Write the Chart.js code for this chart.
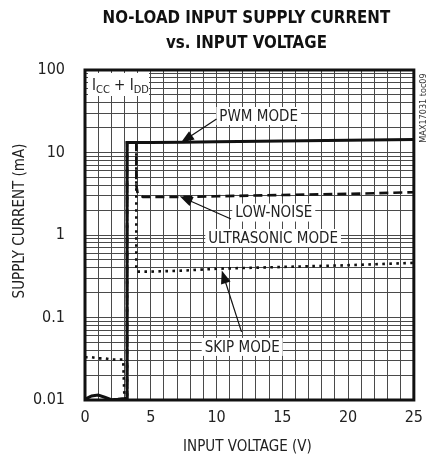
<!DOCTYPE html>
<html>
<head>
<meta charset="utf-8">
<script src="https://cdn.jsdelivr.net/npm/chart.js@4/dist/chart.umd.min.js"></script>
<style>
  html, body { margin: 0; padding: 0; background: #fff; }
  #wrap { width: 431px; height: 459px; }
</style>
</head>
<body>
<div id="wrap"><canvas id="dataChart" width="431" height="459"></canvas></div>
<script>
// values (V, mA)
var pwmX   = [0, 0.5, 1, 1.5, 2, 2.5, 3.0, 3.2, 3.2, 4, 5, 7.5, 10, 15, 20, 25];
var pwmY   = [0.0102, 0.0112, 0.0115, 0.0108, 0.0101, 0.0102, 0.0104, 0.0105, 13.2, 13.2, 13.2, 13.3, 13.5, 13.8, 14.1, 14.4];

var lowNoiseX = [3.2, 3.2, 3.9, 3.9, 4.0, 4.4, 5, 7.5, 10, 15, 20, 25];
var lowNoiseY = [0.0101, 13.2, 13.2, 4.0, 3.2, 2.9, 2.9, 2.9, 2.95, 3.05, 3.15, 3.3];

var skipX  = [0, 0.5, 1, 1.5, 2, 2.5, 2.9, 3.0, 3.2, 3.2, 3.9, 3.9, 3.95, 5, 7.5, 10, 15, 20, 25];
var skipY  = [0.033, 0.033, 0.032, 0.032, 0.031, 0.031, 0.031, 0.0105, 0.0101, 13.2, 13.2, 0.4, 0.36, 0.36, 0.37, 0.39, 0.41, 0.43, 0.46];

var xTickLabels = ['0', '5', '10', '15', '20', '25'];
var yTickLabels = ['0.01', '0.1', '1', '10', '100'];

// annotation text anchors and arrows, in data units
var notes = [
  { text: 'PWM MODE', x: 13.2, y: 27.7 },
  { text: 'LOW-NOISE', x: 14.35, y: 1.87 },
  { text: 'ULTRASONIC MODE', x: 14.3, y: 0.92 },
  { text: 'SKIP MODE', x: 11.95, y: 0.044 }
];
var arrows = [
  { x1: 10.0, y1: 25.5, x2: 7.3, y2: 13.2 },
  { x1: 11.1, y1: 1.56, x2: 7.2, y2: 2.95 },
  { x1: 11.9, y1: 0.067, x2: 10.4, y2: 0.37 }
];

var FONT = "'Liberation Sans Narrow', 'DejaVu Sans Condensed', sans-serif";

function toPoints(xs, ys) {
  return xs.map(function (x, i) { return { x: x, y: ys[i] }; });
}

// log grid: 1..9 in every decade
var yGrid = [];
for (var e = -2; e < 2; e++) {
  for (var m = 1; m < 10; m++) yGrid.push(parseFloat((m * Math.pow(10, e)).toPrecision(3)));
}
yGrid.push(100);

function isDecade(v) {
  var l = Math.log10(v);
  return Math.abs(l - Math.round(l)) < 1e-9;
}

var decorPlugin = {
  id: 'decor',
  afterDatasetsDraw: function (chart) {
    var c = chart.ctx, a = chart.chartArea;
    var xs = chart.scales.x, ys = chart.scales.y;
    c.save();

    // frame
    c.strokeStyle = '#111';
    c.lineWidth = 3;
    c.strokeRect(a.left, a.top, a.right - a.left, a.bottom - a.top);

    // Icc + Idd box
    c.font = '15px ' + FONT;
    c.textBaseline = 'alphabetic';
    var bx = a.left + 3, by = a.top + 3;
    c.fillStyle = '#fff';
    c.fillRect(bx, by, 61, 23);
    c.fillStyle = '#222';
    var tx = bx + 4, base = by + 17;
    c.fillText('I', tx, base); tx += c.measureText('I').width;
    c.font = '11px ' + FONT;
    c.fillText('CC', tx, base + 3); tx += c.measureText('CC').width;
    c.font = '15px ' + FONT;
    c.fillText(' + I', tx, base); tx += c.measureText(' + I').width;
    c.font = '11px ' + FONT;
    c.fillText('DD', tx, base + 3);

    // mode labels
    c.font = '15px ' + FONT;
    c.textAlign = 'center';
    c.textBaseline = 'middle';
    notes.forEach(function (n) {
      var px = xs.getPixelForValue(n.x), py = ys.getPixelForValue(n.y);
      var w = c.measureText(n.text).width;
      c.fillStyle = '#fff';
      c.fillRect(px - w / 2 - 3, py - 9, w + 6, 18);
      c.fillStyle = '#222';
      c.fillText(n.text, px, py + 1);
    });

    // arrows
    c.strokeStyle = '#111';
    c.fillStyle = '#111';
    c.lineWidth = 1.2;
    arrows.forEach(function (r) {
      var x1 = xs.getPixelForValue(r.x1), y1 = ys.getPixelForValue(r.y1);
      var x2 = xs.getPixelForValue(r.x2), y2 = ys.getPixelForValue(r.y2);
      var ang = Math.atan2(y2 - y1, x2 - x1);
      var hl = 13, hw = 5;
      c.beginPath();
      c.moveTo(x1, y1);
      c.lineTo(x2 - Math.cos(ang) * hl * 0.8, y2 - Math.sin(ang) * hl * 0.8);
      c.stroke();
      c.beginPath();
      c.moveTo(x2, y2);
      c.lineTo(x2 - Math.cos(ang) * hl - Math.sin(ang) * hw, y2 - Math.sin(ang) * hl + Math.cos(ang) * hw);
      c.lineTo(x2 - Math.cos(ang) * hl + Math.sin(ang) * hw, y2 - Math.sin(ang) * hl - Math.cos(ang) * hw);
      c.closePath();
      c.fill();
    });

    // titles, squeezed a little to look condensed
    var cx = (a.left + a.right) / 2;
    c.fillStyle = '#111';
    c.font = 'bold 18px ' + FONT;
    c.textAlign = 'center';
    c.textBaseline = 'middle';
    c.save();
    c.translate(cx - 3, 0);
    c.scale(0.93, 1);
    c.fillText('NO-LOAD INPUT SUPPLY CURRENT', 0, 18);
    c.fillText('vs. INPUT VOLTAGE', 0, 43);
    c.restore();

    // axis titles
    c.fillStyle = '#222';
    c.font = '15px ' + FONT;
    c.fillText('INPUT VOLTAGE (V)', cx - 2, 447);
    c.save();
    c.translate(20, (a.top + a.bottom) / 2 - 14);
    c.rotate(-Math.PI / 2);
    c.fillText('SUPPLY CURRENT (mA)', 0, 0);
    c.restore();

    // side code
    c.save();
    c.translate(424, a.top + 38);
    c.rotate(-Math.PI / 2);
    c.font = '9px ' + FONT;
    c.fillStyle = '#333';
    c.fillText('MAX17031 toc09', 0, 0);
    c.restore();

    c.restore();
  }
};

function createChart() {
  var ctx = document.getElementById('dataChart');
  var myChart = new Chart(ctx, {
    type: 'line',
    data: {
      datasets: [{
          label: 'PWM MODE',
          data: toPoints(pwmX, pwmY),
          borderColor: '#111',
          borderWidth: 3
        },
        {
          label: 'LOW-NOISE ULTRASONIC MODE',
          data: toPoints(lowNoiseX, lowNoiseY),
          borderColor: '#111',
          borderWidth: 2.6,
          borderDash: [9, 5]
        },
        {
          label: 'SKIP MODE',
          data: toPoints(skipX, skipY),
          borderColor: '#111',
          borderWidth: 2.6,
          borderDash: [2.6, 4.4]
      }]
    },
    options: {
      responsive: false,
      animation: false,
      layout: { padding: { top: 70, right: 16, left: 0, bottom: 0 } },
      elements: {
        point: { radius: 0 },
        line: { tension: 0, fill: false, borderCapStyle: 'butt' }
      },
      plugins: {
        legend: { display: false },
        tooltip: { enabled: false }
      },
      scales: {
        x: {
          type: 'linear',
          min: 0,
          max: 25,
          afterFit: function (s) { s.height = 59; },
          border: { display: false },
          grid: { color: '#4a4a4a', lineWidth: 1, drawTicks: false },
          ticks: {
            stepSize: 1,
            autoSkip: false,
            maxRotation: 0,
            padding: 8,
            color: '#222',
            font: { family: FONT, size: 16 },
            callback: function (v) {
              return v % 5 === 0 ? xTickLabels[v / 5] : '';
            }
          }
        },
        y: {
          type: 'logarithmic',
          min: 0.01,
          max: 100,
          afterFit: function (s) { s.width = 85; },
          afterBuildTicks: function (s) {
            s.ticks = yGrid.map(function (v) { return { value: v }; });
          },
          border: { display: false },
          grid: { color: '#4a4a4a', lineWidth: 1, drawTicks: false },
          ticks: {
            autoSkip: false,
            padding: 20,
            color: '#222',
            font: { family: FONT, size: 16 },
            callback: function (v) {
              if (!isDecade(v)) return '';
              return yTickLabels[Math.round(Math.log10(v)) + 2];
            }
          }
        }
      }
    },
    plugins: [decorPlugin]
  });
}

createChart();
</script>
</body>
</html>
